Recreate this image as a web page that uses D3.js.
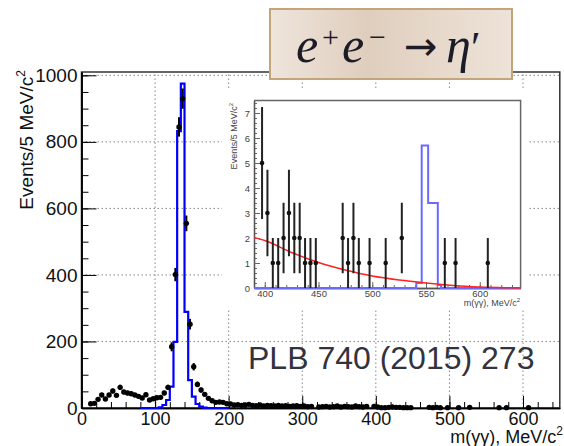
<!DOCTYPE html>
<meta charset="utf-8">
<style>
body { margin: 0; background: #fff; }
svg { display: block; font-family: "Liberation Sans", Arial, sans-serif; }
.grid line { stroke: #888; stroke-width: 1; stroke-dasharray: 1.5,2.5; }
</style>
<svg width="564" height="446"></svg>
<script src="https://d3js.org/d3.v7.min.js"></script>
<script>

// data: 5 MeV bins (bin centre), empty bins are left out
var mainMass = [12.5,17.5,22.5,27.5,32.5,37.5,42.5,47.5,52.5,57.5,62.5,67.5,72.5,77.5,82.5,87.5,92.5,97.5,
  102.5,107.5,112.5,117.5,122.5,127.5,132.5,137.5,142.5,147.5,152.5,157.5,162.5,167.5,172.5,177.5,182.5,187.5,192.5,197.5,
  202.5,207.5,212.5,217.5,222.5,227.5,232.5,237.5,242.5,247.5,252.5,257.5,262.5,267.5,272.5,277.5,282.5,287.5,292.5,297.5,
  302.5,307.5,312.5,322.5,327.5,332.5,337.5,342.5,347.5,352.5,357.5,362.5,367.5,372.5,377.5,382.5,387.5,
  397.5,402.5,407.5,412.5,417.5,422.5,427.5,432.5,437.5,442.5,447.5,472.5,477.5,482.5,487.5,497.5,512.5,527.5,567.5,577.5,607.5];
var mainCount = [13,14,26,39,27,39,51,38,62,48,45,43,39,35,30,40,24,28,
  31,32,45,62,184,401,845,930,555,252,124,71,54,41,29,22,17,18,17,13,
  12,9,10,8,9,11,8,7,9,6,8,7,6,8,6,7,5,6,7,5,
  6,4,5,3,4,5,3,4,6,3,5,4,3,6,4,3,5,
  5,3,1,1,2,3,2,2,1,1,1,2,1,2,1,1,1,2,1,1,1];
var mainErr = [3.6,3.7,5.1,6.2,5.2,6.2,7.1,6.2,7.9,6.9,6.7,6.6,6.2,5.9,5.5,6.3,4.9,5.3,
  5.6,5.7,6.7,7.9,13.6,20,29.1,30.5,23.6,15.9,11.1,8.4,7.3,6.4,5.4,4.7,4.1,4.2,4.1,3.6,
  3.5,3,3.2,2.8,3,3.3,2.8,2.6,3,2.4,2.8,2.6,2.4,2.8,2.4,2.6,2.2,2.4,2.6,2.2,
  2.4,2,2.2,1.7,2,2.2,1.7,2,2.4,1.7,2.2,2,1.7,2.4,2,1.7,2.2,
  2.24,1.73,1,1,1.41,1.73,1.41,1.41,1,1,1,1.41,1,1.41,1,1,1,1.41,1,1,1];

// MC eta histogram (bin edges, contents)
var mcEdges = [80,105,110,115,120,125,130,135,140,145,150,155,160,165,170,200];
var mcVals = [0,2,9,24,64,199,832,975,289,84,34,12,4,1,0];

// inset: MC eta' histogram and background fit
var mc2Edges = [390,541,546,552,561,564,638];
var mc2Vals = [0,0.2,5.7,3.4,0.12,0];
var fitMass = [390,400,425,450,475,500,525,550,575,600,625,638];
var fitVal = [2.02,1.9,1.42,1.02,0.72,0.48,0.32,0.2,0.1,0.04,0.01,0];

var xTicks = [0,100,200,300,400,500,600];
var yTicks = [0,200,400,600,800,1000];
var ixTicks = [400,450,500,550,600];
var iyTicks = [0,1,2,3,4,5,6,7];

var svg = d3.select("svg");

var x = d3.scaleLinear().domain([0, 650]).range([81.5, 559.8]);
var y = d3.scaleLinear().domain([0, 1010]).range([408, 72]);

function steps(edges, vals) {
  var pts = [];
  vals.forEach(function(v, i) {
    pts.push([edges[i], v]);
    pts.push([edges[i + 1], v]);
  });
  return pts;
}

// grid
var grid = svg.append("g").attr("class", "grid");
grid.selectAll(".gx").data(xTicks.slice(1)).enter().append("line")
  .attr("x1", function(d) { return x(d); }).attr("x2", function(d) { return x(d); })
  .attr("y1", y(0)).attr("y2", y.range()[1]);
grid.selectAll(".gy").data(yTicks.slice(1)).enter().append("line")
  .attr("x1", x(0)).attr("x2", x.range()[1])
  .attr("y1", function(d) { return y(d); }).attr("y2", function(d) { return y(d); });

// frame
svg.append("rect")
  .attr("x", x(0)).attr("y", y.range()[1])
  .attr("width", x.range()[1] - x(0)).attr("height", y(0) - y.range()[1])
  .attr("fill", "none").attr("stroke", "#333").attr("stroke-width", 1.5);

// axes
function styleAxis(g, size) {
  g.select(".domain").attr("stroke", "#000").attr("stroke-width", 1.5);
  g.selectAll(".tick line").attr("stroke", "#000");
  g.selectAll("text").attr("fill", "#111").style("font-size", size)
    .style("font-family", "'Liberation Sans', Arial, sans-serif");
}

svg.append("g").attr("transform", "translate(0,408)")
  .call(d3.axisBottom(x).tickValues(d3.range(0, 651, 20)).tickSize(-6).tickSizeOuter(0).tickFormat(""))
  .call(styleAxis, "18px");
svg.append("g").attr("transform", "translate(0,408)")
  .call(d3.axisBottom(x).tickValues(xTicks).tickSize(-12).tickSizeOuter(0).tickPadding(4).tickFormat(d3.format("d")))
  .call(styleAxis, "18px");
svg.append("g").attr("transform", "translate(" + x(0) + ",0)")
  .call(d3.axisLeft(y).tickValues(d3.range(0, 1001, 50)).tickSize(-7).tickSizeOuter(0).tickFormat(""))
  .call(styleAxis, "18px");
svg.append("g").attr("transform", "translate(" + x(0) + ",0)")
  .call(d3.axisLeft(y).tickValues(yTicks).tickSize(-15).tickSizeOuter(0).tickPadding(4).tickFormat(d3.format("d")))
  .call(styleAxis, "19px");

svg.append("text")
  .attr("x", 563).attr("y", 443).attr("text-anchor", "end")
  .style("font-size", "18px").attr("fill", "#111")
  .text("m(\u03b3\u03b3), MeV/c")
  .append("tspan").attr("dy", -8).style("font-size", "12px").text("2");

svg.append("text")
  .attr("transform", "translate(33,70) rotate(-90)").attr("text-anchor", "end")
  .style("font-size", "19px").attr("fill", "#111")
  .text("Events/5 MeV/c")
  .append("tspan").attr("dy", -8).style("font-size", "12px").text("2");

// MC histogram
var line = d3.line().x(function(d) { return x(d[0]); }).y(function(d) { return y(d[1]); });
svg.append("path")
  .attr("d", line(steps(mcEdges, mcVals)))
  .attr("fill", "none").attr("stroke", "#0000ff").attr("stroke-width", 2.2);

// data points
var pts = svg.append("g");
mainMass.forEach(function(m, i) {
  pts.append("line")
    .attr("x1", x(m)).attr("x2", x(m))
    .attr("y1", y(mainCount[i] - mainErr[i])).attr("y2", y(mainCount[i] + mainErr[i]))
    .attr("stroke", "#000").attr("stroke-width", 2);
  pts.append("circle")
    .attr("cx", x(m)).attr("cy", y(mainCount[i])).attr("r", 2.7).attr("fill", "#000");
});

svg.append("text")
  .attr("x", 248).attr("y", 369)
  .style("font-size", "32px").attr("fill", "#33333d")
  .text("PLB 740 (2015) 273");

// ---------- inset ----------
var ix = d3.scaleLinear().domain([390, 638]).range([254, 520.6]);
var iy = d3.scaleLinear().domain([0, 7.5]).range([288, 100.5]);

svg.append("rect").attr("x", 222).attr("y", 88).attr("width", 306).attr("height", 221).attr("fill", "#fff");

svg.append("path")
  .attr("d", "M" + ix.range()[0] + "," + iy.range()[1] + "H" + ix.range()[1] + "V" + iy(0))
  .attr("fill", "none").attr("stroke", "#666").attr("stroke-width", 1.5);

function styleInset(g) {
  g.select(".domain").attr("stroke", "#555").attr("stroke-width", 1.3);
  g.selectAll(".tick line").attr("stroke", "#666");
  g.selectAll("text").attr("fill", "#444").style("font-size", "9.5px")
    .style("font-family", "'Liberation Sans', Arial, sans-serif");
}
svg.append("g").attr("transform", "translate(0," + iy(0) + ")")
  .call(d3.axisBottom(ix).tickValues(d3.range(390, 638, 10)).tickSize(-3).tickSizeOuter(0).tickFormat(""))
  .call(styleInset);
svg.append("g").attr("transform", "translate(0," + iy(0) + ")")
  .call(d3.axisBottom(ix).tickValues(ixTicks).tickSize(-6).tickSizeOuter(0).tickPadding(2))
  .call(styleInset);
svg.append("g").attr("transform", "translate(" + ix.range()[0] + ",0)")
  .call(d3.axisLeft(iy).tickValues(d3.range(0, 7.41, 0.2)).tickSize(-3).tickSizeOuter(0).tickFormat(""))
  .call(styleInset);
svg.append("g").attr("transform", "translate(" + ix.range()[0] + ",0)")
  .call(d3.axisLeft(iy).tickValues(iyTicks).tickSize(-6).tickSizeOuter(0).tickPadding(4))
  .call(styleInset);

svg.append("text")
  .attr("x", 520).attr("y", 306).attr("text-anchor", "end")
  .style("font-size", "9px").attr("fill", "#444")
  .text("m(\u03b3\u03b3), MeV/c")
  .append("tspan").attr("dy", -4).style("font-size", "6px").text("2");
svg.append("text")
  .attr("transform", "translate(237,103) rotate(-90)").attr("text-anchor", "end")
  .style("font-size", "9px").attr("fill", "#444")
  .text("Events/5 MeV/c")
  .append("tspan").attr("dy", -4).style("font-size", "6px").text("2");

var iline = d3.line().x(function(d) { return ix(d[0]); }).y(function(d) { return iy(d[1]); });
svg.append("path")
  .attr("d", iline(steps(mc2Edges, mc2Vals)))
  .attr("fill", "none").attr("stroke", "#6a6aff").attr("stroke-width", 2);

svg.append("path")
  .attr("d", iline.curve(d3.curveMonotoneX)(fitMass.map(function(m, i) { return [m, fitVal[i]]; })))
  .attr("fill", "none").attr("stroke", "#f22").attr("stroke-width", 1.5);

var ipts = svg.append("g");
mainMass.forEach(function(m, i) {
  if (m < 390) return;
  ipts.append("line")
    .attr("x1", ix(m)).attr("x2", ix(m))
    .attr("y1", iy(Math.max(0, mainCount[i] - mainErr[i]))).attr("y2", iy(mainCount[i] + mainErr[i]))
    .attr("stroke", "#222").attr("stroke-width", 2);
  ipts.append("circle")
    .attr("cx", ix(m)).attr("cy", iy(mainCount[i])).attr("r", 2.3).attr("fill", "#111");
});

// ---------- title box ----------
var grad = svg.append("defs").append("linearGradient").attr("id", "tb");
grad.append("stop").attr("offset", "0%").attr("stop-color", "#efe5dc");
grad.append("stop").attr("offset", "40%").attr("stop-color", "#dfcebd");
grad.append("stop").attr("offset", "100%").attr("stop-color", "#eee3d9");
svg.append("rect")
  .attr("x", 270).attr("y", 9).attr("width", 242).attr("height", 70)
  .attr("fill", "url(#tb)").attr("stroke", "#c3a57c").attr("stroke-width", 2);

var t = svg.append("text").attr("y", 62)
  .style("font-family", "'Cambria Math', 'Liberation Serif', 'DejaVu Serif', serif")
  .style("font-size", "50px").attr("fill", "#1c1c28");
t.append("tspan").attr("x", 296).style("font-style", "italic").text("e");
t.append("tspan").attr("x", 322).attr("y", 47).style("font-size", "30px").text("+");
t.append("tspan").attr("x", 342).attr("y", 62).style("font-style", "italic").text("e");
t.append("tspan").attr("x", 369).attr("y", 47).style("font-size", "30px").text("\u2212");
t.append("tspan").attr("x", 404).attr("y", 60).style("font-family", "'DejaVu Sans', sans-serif")
  .style("font-size", "40px").text("\u2192");
t.append("tspan").attr("x", 446).attr("y", 62).style("font-style", "italic").text("\u03b7");
t.append("tspan").attr("x", 471).style("font-size", "44px").text("\u2032");

</script>
